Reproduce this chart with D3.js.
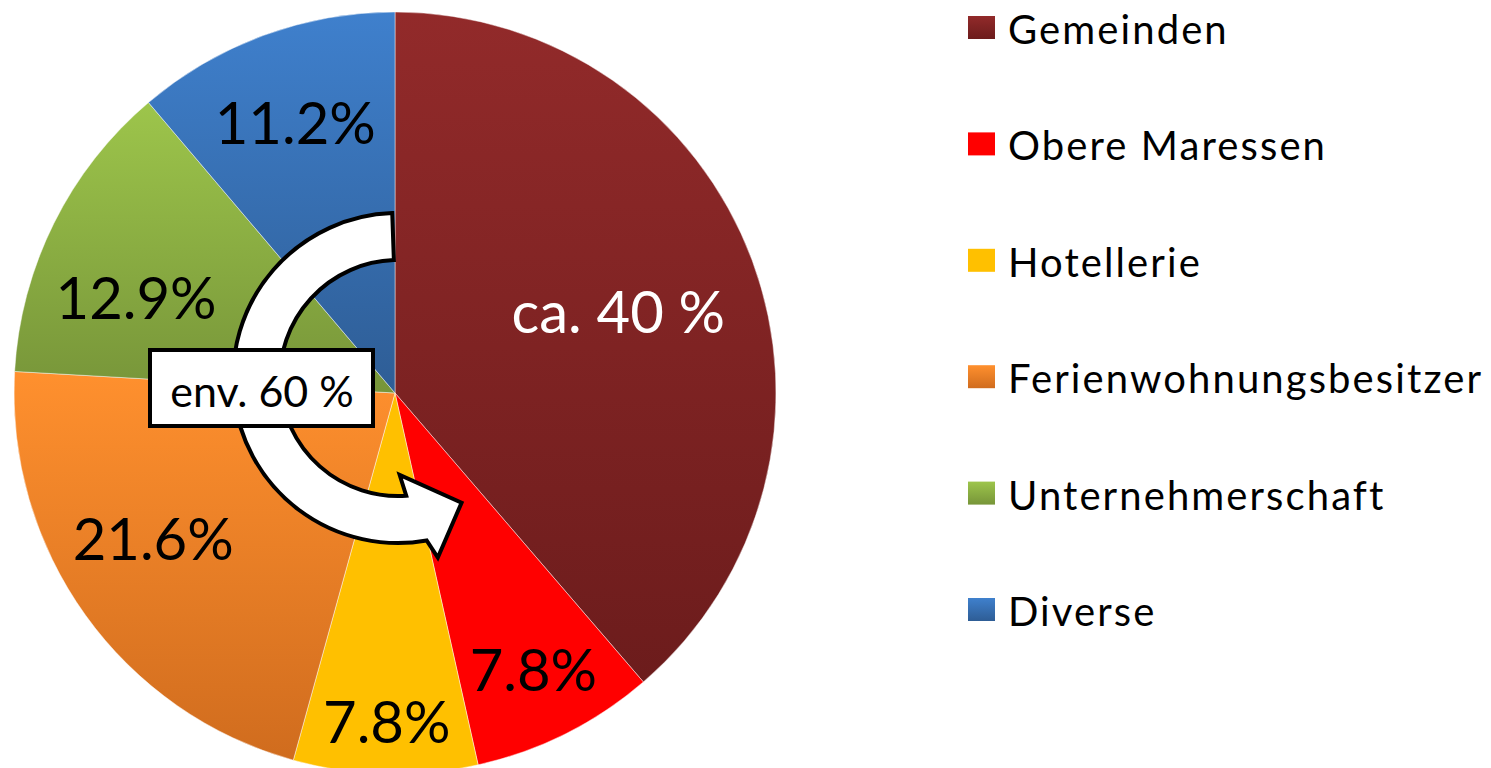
<!DOCTYPE html>
<html>
<head>
<meta charset="utf-8">
<script src="https://cdn.jsdelivr.net/npm/d3@7"></script>
<style>
  html, body { margin: 0; padding: 0; background: #ffffff; }
  svg { display: block; }
</style>
</head>
<body>
<svg id="chart" width="1491" height="768"></svg>
<script>
// ---- data ----
const categories = ["Gemeinden", "Obere Maressen", "Hotellerie", "Ferienwohnungsbesitzer", "Unternehmerschaft", "Diverse"];
const values = [38.7, 7.8, 7.8, 21.6, 12.9, 11.2];
const labels = ["ca. 40 %", "7.8%", "7.8%", "21.6%", "12.9%", "11.2%"];
const annotationText = "env. 60 %";

// ---- styles / layout ----
const colorTop    = ["#922a2a", "#ff0000", "#ffc000", "#ff902e", "#9dc54b", "#3f80cd"];
const colorBottom = ["#6c1c1c", "#ff0000", "#ffc000", "#d06c1e", "#779539", "#2e5d95"];
const labelColor  = ["#ffffff", "#000000", "#000000", "#000000", "#000000", "#000000"];
const labelRadiusFrac = [0.625, 0.81, 0.86, 0.74, 0.725, 0.76];
const labelAngleShift = [0, 0, 0, 4.7, -6.1, 0]; // degrees
const FONT = "Lato, 'Open Sans', sans-serif";

const svg = d3.select("#chart");
const cx = 395, cy = 393, R = 381;

const defs = svg.append("defs");
categories.forEach((c, i) => {
  const g = defs.append("linearGradient")
    .attr("id", "grad" + i)
    .attr("x1", 0).attr("y1", 0).attr("x2", 0).attr("y2", 1);
  g.append("stop").attr("offset", "0%").attr("stop-color", colorTop[i]);
  g.append("stop").attr("offset", "100%").attr("stop-color", colorBottom[i]);
});

const pie = d3.pie().value(d => d).sort(null);
const arcs = pie(values);
const arc = d3.arc().innerRadius(0).outerRadius(R);

const gPie = svg.append("g").attr("transform", `translate(${cx},${cy})`);
gPie.selectAll("path.slice")
  .data(arcs)
  .join("path")
  .attr("class", "slice")
  .attr("d", arc)
  .attr("fill", (d, i) => `url(#grad${i})`)
  .attr("stroke", "rgba(255,255,255,0.45)")
  .attr("stroke-width", 1);

gPie.selectAll("text.lbl")
  .data(arcs)
  .join("text")
  .attr("class", "lbl")
  .attr("transform", (d, i) => {
    const r = R * labelRadiusFrac[i];
    const a = (d.startAngle + d.endAngle) / 2 + labelAngleShift[i] * Math.PI / 180;
    return `translate(${r * Math.sin(a)},${-r * Math.cos(a)})`;
  })
  .attr("text-anchor", "middle")
  .attr("dominant-baseline", "central")
  .attr("font-family", FONT)
  .attr("font-size", 58)
  .attr("fill", (d, i) => labelColor[i])
  .text((d, i) => labels[i]);

// ---- curved arrow annotation ----
const ac = [cx + 3, cy - 15];
const Ro = 165, Ri = 118;
const pt = (r, degFromTop) => {
  const a = degFromTop * Math.PI / 180;
  return [ac[0] + r * Math.sin(a), ac[1] - r * Math.cos(a)];
};
const topOuter = pt(Ro, -2), topInner = pt(Ri, -2);
const endOuter = pt(Ro, -190), endInner = pt(Ri, -184);
const barbInner = pt(97, -181);
const barbOuter = pt(184, -192.5);
const tip = pt(140, -207);
const arrowPath = [
  `M${topOuter}`,
  `A${Ro},${Ro} 0 1 0 ${endOuter}`,
  `L${barbOuter}`,
  `L${tip}`,
  `L${barbInner}`,
  `L${endInner}`,
  `A${Ri},${Ri} 0 1 1 ${topInner}`,
  "Z"
].join(" ");
svg.append("path")
  .attr("d", arrowPath)
  .attr("fill", "#ffffff")
  .attr("stroke", "#000000")
  .attr("stroke-width", 4)
  .attr("stroke-linejoin", "miter");

// box
svg.append("rect")
  .attr("x", 150).attr("y", 350).attr("width", 223).attr("height", 76)
  .attr("fill", "#ffffff").attr("stroke", "#000000").attr("stroke-width", 4);
svg.append("text")
  .attr("x", 262).attr("y", 390)
  .attr("text-anchor", "middle").attr("dominant-baseline", "central")
  .attr("font-family", FONT).attr("font-size", 43)
  .attr("fill", "#000000")
  .text(annotationText);

// ---- legend ----
const legendY = d3.scalePoint().domain(categories).range([28, 610]);
const gLeg = svg.append("g");
const items = gLeg.selectAll("g.item").data(categories).join("g")
  .attr("class", "item")
  .attr("transform", d => `translate(968,${legendY(d)})`);
items.append("rect")
  .attr("x", 0).attr("y", -12).attr("width", 27).attr("height", 23)
  .attr("fill", (d, i) => `url(#grad${i})`);
items.append("text")
  .attr("x", 40).attr("y", 1)
  .attr("dominant-baseline", "central")
  .attr("font-family", FONT).attr("font-size", 40)
  .attr("letter-spacing", 2.1)
  .attr("fill", "#000000")
  .text(d => d);
</script>
</body>
</html>
